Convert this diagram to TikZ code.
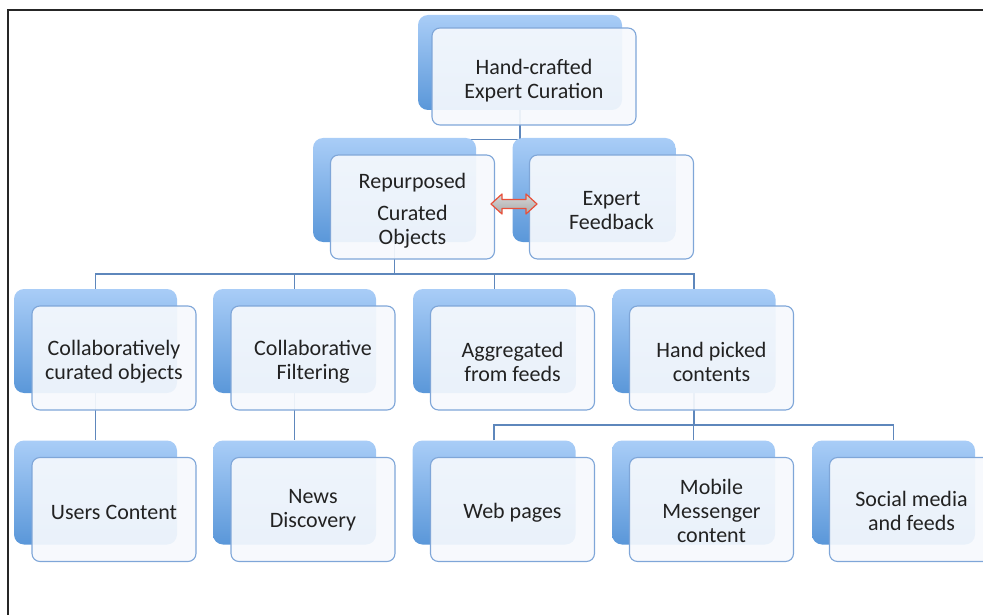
\documentclass[tikz,border=0pt]{standalone}
\usepackage{fontspec}
\setmainfont{Carlito}
\usetikzlibrary{calc}
\pgfdeclarelayer{background}
\pgfsetlayers{background,main}
\definecolor{lineblue}{HTML}{5E87BC}
\definecolor{backtop}{HTML}{A9CDF7}
\definecolor{backbot}{HTML}{5A97D9}
\definecolor{frontline}{HTML}{7FA6D8}
\definecolor{frontfill}{HTML}{F6F9FD}
\definecolor{textgray}{HTML}{222222}
\definecolor{arrowred}{HTML}{E8503A}
\definecolor{arrowtop}{HTML}{D6D6D6}
\definecolor{arrowbot}{HTML}{ABABAB}
\begin{document}
\begin{tikzpicture}[x=1pt,y=-1pt,
  backbox/.style={rounded corners=10pt, minimum width=163pt, minimum height=104pt,
    inner sep=0pt, top color=backtop, bottom color=backbot, draw=none},
  frontbox/.style={rounded corners=8pt, minimum width=164pt, minimum height=104pt,
    draw=frontline, line width=1.1pt, fill=frontfill, fill opacity=0.92, inner sep=0pt},
  label/.style={align=center, font=\fontsize{22}{24}\selectfont, text=textgray, inner sep=0pt},
  conn/.style={draw=lineblue, line width=1.3pt}]
\useasboundingbox (0,0) rectangle (983,615);
\clip (0,0) rectangle (983,615);
% frame
\draw[line width=2pt, black!85] (983,10) -- (8,10) -- (8,615);

% level 1
\node[backbox, minimum width=204pt, minimum height=95pt] (topb) at (520,62.5) {};
\node[frontbox, minimum width=204pt, minimum height=97pt] (topf) at (534,76.5) {};
\node[label] (top) at ($(topf.center)+(0,4)$) {Hand-crafted\\Expert Curation};

% level 2
\node[backbox] (repb) at (394.5,190) {};
\node[backbox] (expb) at (594,190) {};
\node[frontbox] (repf) at (412.5,207) {};
\node[frontbox] (expf) at (611.5,207) {};
\node[label] (rep) at ($(repf.center)+(0,4)$) {Repurposed\\[8pt]Curated\\Objects};
\node[label] (exp) at ($(expf.center)+(0,4)$) {Expert\\Feedback};

% level 3
\node[backbox] (colob) at (95.5,341) {};
\node[backbox] (filtb) at (294.5,341) {};
\node[backbox] (aggrb) at (494.5,341) {};
\node[backbox] (handb) at (694,341) {};
\node[frontbox] (colof) at (114,358) {};
\node[frontbox] (filtf) at (313,358) {};
\node[frontbox] (aggrf) at (512.5,358) {};
\node[frontbox] (handf) at (711.5,358) {};
\node[label] (colo) at ($(colof.center)+(0,4)$) {Collaboratively\\curated objects};
\node[label] (filt) at ($(filtf.center)+(0,4)$) {Collaborative\\Filtering};
\node[label] (aggr) at ($(aggrf.center)+(0,4)$) {Aggregated\\from feeds};
\node[label] (hand) at ($(handf.center)+(0,4)$) {Hand picked\\contents};

% level 4
\node[backbox] (usersb) at (95.5,492.5) {};
\node[backbox] (newsb) at (294.5,492.5) {};
\node[backbox] (webb) at (494,492.5) {};
\node[backbox] (mobb) at (693.5,492.5) {};
\node[backbox] (socb) at (893.5,492.5) {};
\node[frontbox] (usersf) at (114,509.5) {};
\node[frontbox] (newsf) at (313,509.5) {};
\node[frontbox] (webf) at (512.5,509.5) {};
\node[frontbox] (mobf) at (711.5,509.5) {};
\node[frontbox] (socf) at (911.5,509.5) {};
\node[label] (users) at ($(usersf.center)+(0,3)$) {Users Content};
\node[label] (news) at ($(newsf.center)+(0,1)$) {News\\Discovery};
\node[label] (web) at ($(webf.center)+(0,3)$) {Web pages};
\node[label] (mob) at ($(mobf.center)+(0,1)$) {Mobile\\Messenger\\content};
\node[label] (soc) at ($(socf.center)+(0,1)$) {Social media\\and feeds};

% connectors
\coordinate (j1) at (520,139.5);
\coordinate (j2) at (394.5,274);
\coordinate (j3) at (693.5,425);
\begin{pgfonlayer}{background}
\draw[conn] (topb.south) -- (topb.south |- j1);
\draw[conn] (repb.north |- j1) -- (expb.north |- j1);
\draw[conn] (repb.south) -- (j2);
\draw[conn] (colob.north) -- (colob.north |- j2) -- (handb.north |- j2) -- (handb.north);
\draw[conn] (filtb.north) -- (filtb.north |- j2);
\draw[conn] (aggrb.north) -- (aggrb.north |- j2);
\draw[conn] (colob.south) -- (usersb.north);
\draw[conn] (filtb.south) -- (newsb.north);
\draw[conn] (handb.south) -- (handb.south |- j3);
\draw[conn] (webb.north) -- (webb.north |- j3) -- (socb.north |- j3) -- (socb.north);
\draw[conn] (mobb.north) -- (mobb.north |- j3);
\end{pgfonlayer}

% double arrow between Repurposed and Expert Feedback
\coordinate (ac) at ($(repf.east)!0.5!(expf.west)+(2,-3)$);
\draw[draw=arrowred, line width=1.2pt, top color=arrowtop, bottom color=arrowbot, line join=round]
  ($(ac)+(-23,0)$) -- ($(ac)+(-12,-10)$) -- ($(ac)+(-12,-4.5)$) -- ($(ac)+(12,-4.5)$)
  -- ($(ac)+(12,-10)$) -- ($(ac)+(23,0)$) -- ($(ac)+(12,10)$) -- ($(ac)+(12,4.5)$)
  -- ($(ac)+(-12,4.5)$) -- ($(ac)+(-12,10)$) -- cycle;
\end{tikzpicture}
\end{document}
